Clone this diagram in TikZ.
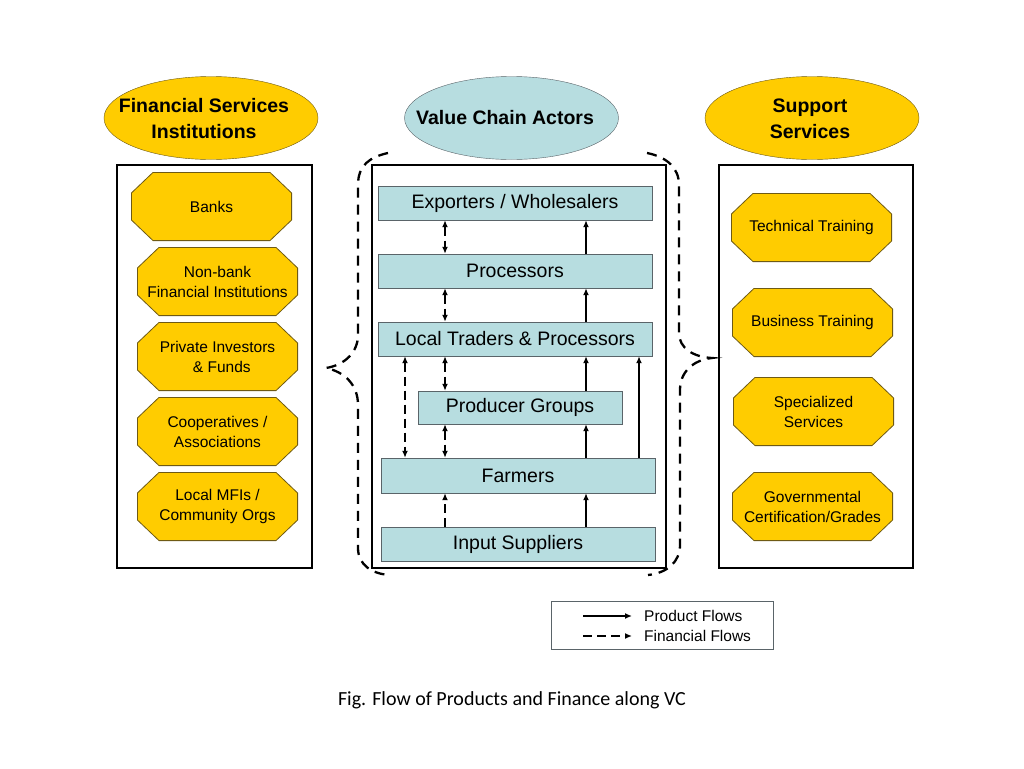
\documentclass[tikz,border=0pt]{standalone}
\usepackage{fontspec}
\setmainfont{Liberation Sans}
\newfontfamily\captionfont{Carlito}
\usetikzlibrary{shapes.geometric,arrows.meta}

\definecolor{fsyellow}{RGB}{255,204,0}
\definecolor{fsedge}{RGB}{110,90,20}
\definecolor{vcblue}{RGB}{183,221,224}
\definecolor{vcedge}{RGB}{90,100,105}

\tikzset{
  title/.style={ellipse, draw, minimum width=214pt, minimum height=83pt, inner sep=0pt},
  titletext/.style={align=center, inner sep=0pt, font=\bfseries\fontsize{19.5}{26}\selectfont},
  octo/.style={rectangle, minimum width=161pt, minimum height=69pt, inner sep=0pt,
    align=center, font=\fontsize{15.5}{20}\selectfont,
    path picture={
      \draw[fill=fsyellow, draw=fsedge, line width=0.8pt]
        ([xshift=22pt,yshift=-0.4pt]path picture bounding box.north west)
        -- ([xshift=-22pt,yshift=-0.4pt]path picture bounding box.north east)
        -- ([xshift=-0.4pt,yshift=-21pt]path picture bounding box.north east)
        -- ([xshift=-0.4pt,yshift=21pt]path picture bounding box.south east)
        -- ([xshift=-22pt,yshift=0.4pt]path picture bounding box.south east)
        -- ([xshift=22pt,yshift=0.4pt]path picture bounding box.south west)
        -- ([xshift=0.4pt,yshift=21pt]path picture bounding box.south west)
        -- ([xshift=0.4pt,yshift=-21pt]path picture bounding box.north west) -- cycle;}},
  actor/.style={draw=vcedge, fill=vcblue, minimum width=274pt, minimum height=34pt, inner sep=0pt,
    font=\fontsize{19.5}{22}\selectfont},
  panel/.style={draw, line width=2pt},
  prod/.style={line width=2.3pt, -{Latex[length=7pt,width=6pt]}},
  fin/.style={line width=2.3pt, dash pattern=on 9pt off 5pt, -{Latex[length=7pt,width=6pt]}},
  finboth/.style={fin, {Latex[length=7pt,width=6pt]}-{Latex[length=7pt,width=6pt]}},
  brace/.style={line width=2.3pt, dash pattern=on 10pt off 7pt}
}

\begin{document}
\begin{tikzpicture}[x=1pt,y=-1pt]
\useasboundingbox (0,0) rectangle (1024,768);

% headings
\node[title, draw=fsedge, fill=fsyellow] (fsi) at (211,118) {};
\node[titletext] (fsilabel) at (204,119) {Financial Services\\Institutions};
\node[title, draw=vcedge, fill=vcblue] (vca) at (511.5,118) {};
\node[titletext] (vcalabel) at (505,118) {Value Chain Actors};
\node[title, draw=fsedge, fill=fsyellow] (sup) at (812,118) {};
\node[titletext] (suplabel) at (810,119) {Support\\Services};

% panels
\draw[panel] (117,165) rectangle (312,568);
\draw[panel] (372,165) rectangle (666,568);
\draw[panel] (719,165) rectangle (913,568);

% braces round the value chain
\draw[brace] (388,153) .. controls (370,157) and (358,165) .. (358,185) -- (358,335)
  .. controls (358,352) and (345,365) .. (326,368)
  .. controls (345,372) and (358,385) .. (358,405) -- (358,548)
  .. controls (358,565) and (372,574) .. (390,575);
\draw[brace] (647,153) .. controls (667,157) and (679,168) .. (679,185) -- (679,333)
  .. controls (679,348) and (693,357) .. (712,358)
  .. controls (693,360) and (680,372) .. (680,390) -- (680,545)
  .. controls (680,562) and (667,573) .. (648,575);

% financial services
\node[octo] (banks) at (211.5,206.5) {Banks};
\node[octo] (nbfi) at (217.5,281.5) {Non-bank\\Financial Institutions};
\node[octo] (priv) at (217.5,356.5) {Private Investors\\\ \ \& Funds};
\node[octo] (coop) at (217.5,431.5) {Cooperatives /\\Associations};
\node[octo] (mfi) at (217.5,506.5) {Local MFIs /\\Community Orgs};

% support services
\node[octo] (tech) at (811.5,227.5) {Technical Training};
\node[octo] (bus) at (812.5,322.5) {Business Training};
\node[octo] (spec) at (813.5,411.5) {Specialized\\Services};
\node[octo] (gov) at (812.5,506.5) {Governmental\\Certification/Grades};

% value chain actors
\node[actor] (exp) at (515,203) {Exporters / Wholesalers};
\node[actor] (proc) at (515,271) {Processors};
\node[actor] (ltp) at (515,339) {Local Traders \& Processors};
\node[actor, minimum width=204pt, minimum height=33pt] (pg) at (520,407.5) {Producer Groups};
\node[actor, minimum height=35pt] (farm) at (518,475.5) {Farmers};
\node[actor] (inp) at (518,544) {Input Suppliers};

% flow lanes
\coordinate (fa) at (405,0);
\coordinate (fb) at (445,0);
\coordinate (pa) at (586,0);
\coordinate (pb) at (639,0);

% flows
\draw[finboth] (exp.south -| fb) -- (proc.north -| fb);
\draw[finboth] (proc.south -| fb) -- (ltp.north -| fb);
\draw[finboth] (ltp.south -| fb) -- (pg.north -| fb);
\draw[finboth] (pg.south -| fb) -- (farm.north -| fb);
\draw[finboth] (ltp.south -| fa) -- (farm.north -| fa);
\draw[fin] (inp.north -| fb) -- (farm.south -| fb);
\draw[prod] (proc.north -| pa) -- (exp.south -| pa);
\draw[prod] (ltp.north -| pa) -- (proc.south -| pa);
\draw[prod] (pg.north -| pa) -- (ltp.south -| pa);
\draw[prod] (farm.north -| pa) -- (pg.south -| pa);
\draw[prod] (inp.north -| pa) -- (farm.south -| pa);
\draw[prod] (farm.north -| pb) -- (ltp.south -| pb);

% legend
\node[draw=vcedge, minimum width=222pt, minimum height=48pt, inner sep=0pt] (key) at (662,625) {};
\coordinate (k1a) at (583,616);
\coordinate (k1b) at (632,616);
\coordinate (k2a) at (583,636);
\coordinate (k2b) at (632,636);
\draw[prod] (k1a) -- (k1b);
\draw[fin] (k2a) -- (k2b);
\node[anchor=west, inner sep=0pt, font=\fontsize{15.5}{20}\selectfont] (kprod) at (644,616) {Product Flows};
\node[anchor=west, inner sep=0pt, font=\fontsize{15.5}{20}\selectfont] (kfin) at (644,636) {Financial Flows};

% caption
\node[font=\captionfont\fontsize{20}{24}\selectfont] (cap) at (512,700) {Fig. Flow of Products and Finance along VC};
\end{tikzpicture}
\end{document}
